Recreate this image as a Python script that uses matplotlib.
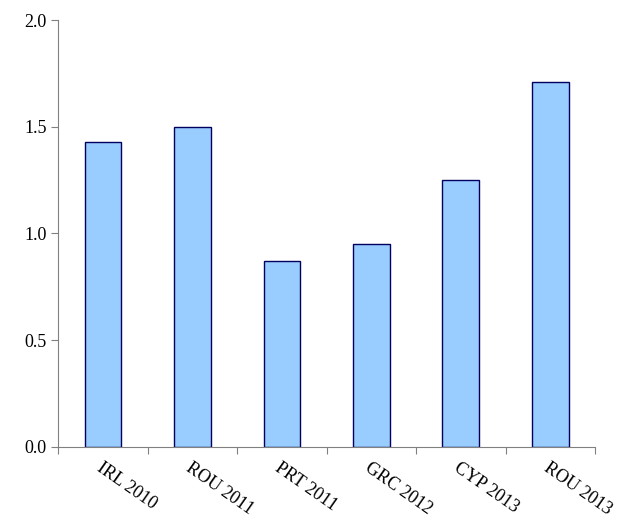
import matplotlib
matplotlib.use("Agg")
from matplotlib import pyplot as plt
import numpy as np

plt.rcParams['font.family'] = ['Liberation Serif', 'DejaVu Serif']

categories = ["IRL 2010", "ROU 2011", "PRT 2011", "GRC 2012", "CYP 2013", "ROU 2013"]
values = [1.43, 1.50, 0.87, 0.95, 1.25, 1.71]

fig = plt.figure(figsize=(6.33, 5.27), dpi=100)
ax = fig.add_axes([0.092, 0.152, 0.848, 0.810])

x = np.arange(len(categories))
ax.bar(x, values, width=0.41, color='#99CCFF', edgecolor='#000060', linewidth=1.0)

ax.set_xlim(-0.5, len(categories) - 0.5)
ax.set_ylim(0, 2.0)
ax.set_yticks([0.0, 0.5, 1.0, 1.5, 2.0])
ax.set_yticklabels(["0.0", "0.5", "1.0", "1.5", "2.0"], fontsize=13)

# ticks between categories, labels centered under bars
ax.set_xticks(np.arange(-0.5, len(categories)), minor=False)
ax.set_xticklabels([])
ax.set_xticks(x, minor=True)
ax.set_xticklabels(categories, minor=True, rotation=-35, ha='left',
                   rotation_mode='anchor', fontsize=13)
ax.tick_params(axis='x', which='minor', length=0, pad=9)
ax.tick_params(axis='x', which='major', direction='out', length=5, color='#808080')
ax.tick_params(axis='y', direction='out', length=5, color='#808080')

for s in ['top', 'right']:
    ax.spines[s].set_visible(False)
for s in ['left', 'bottom']:
    ax.spines[s].set_color('#808080')

fig.savefig("out.png", dpi=100)
